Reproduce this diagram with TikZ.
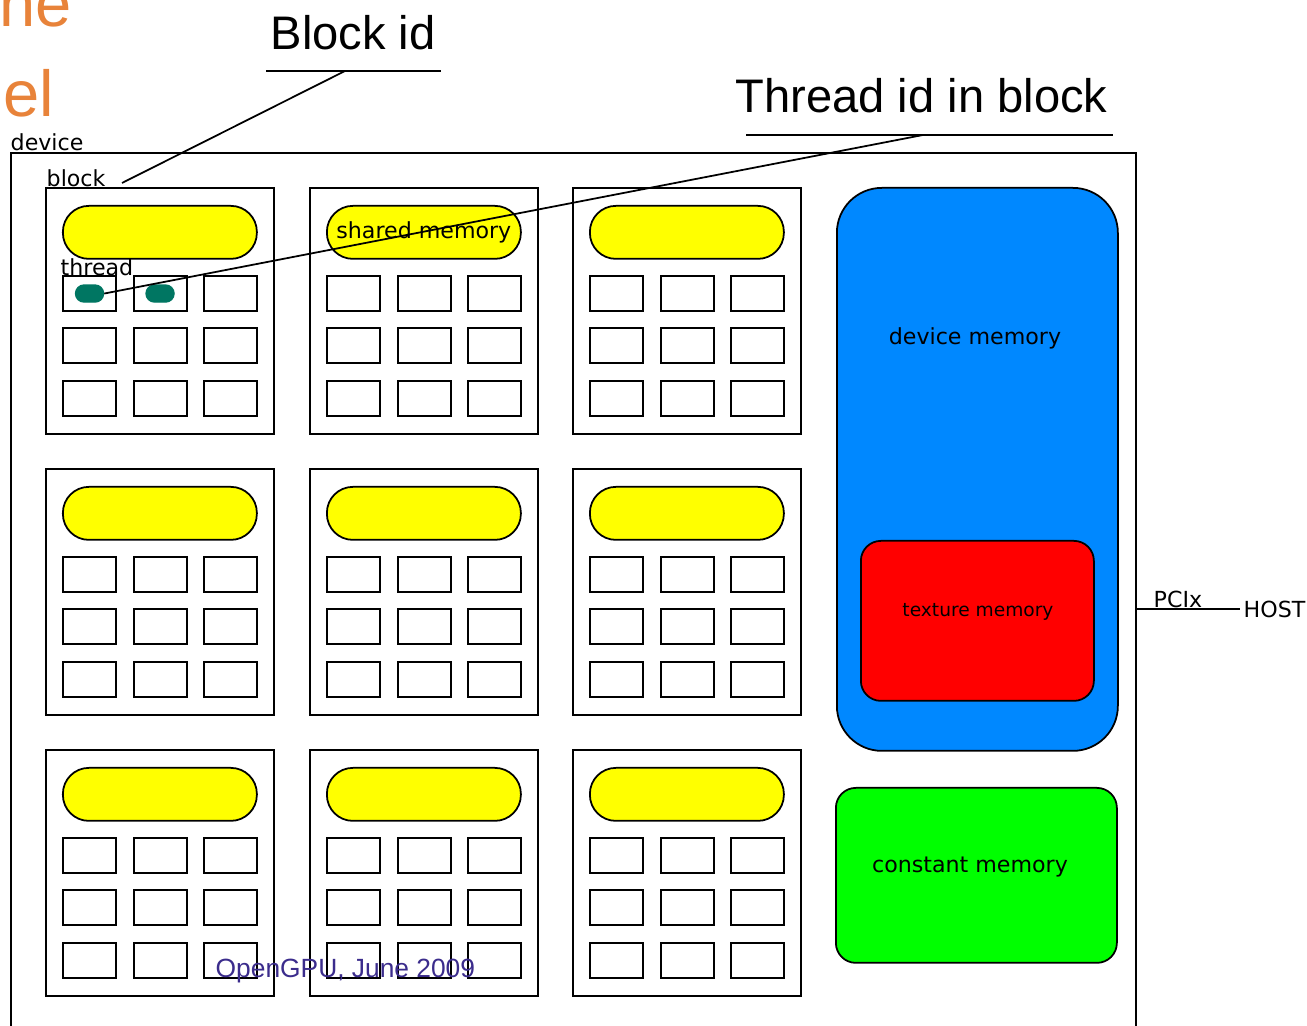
\documentclass[tikz,border=0pt]{standalone}
\usepackage{fontspec}
\setmainfont{DejaVu Sans}
\newfontfamily\helv{Liberation Sans}
\definecolor{shyellow}{RGB}{255,255,0}
\definecolor{devblue}{RGB}{0,136,255}
\definecolor{texred}{RGB}{255,0,0}
\definecolor{constgreen}{RGB}{0,255,0}
\definecolor{thrteal}{RGB}{0,118,98}
\definecolor{slideorange}{RGB}{232,131,58}
\definecolor{footpurple}{RGB}{59,44,140}
\tikzset{
  lbl/.style={font=\fontsize{6.3}{7.5}\selectfont, inner sep=0pt, anchor=base west},
  blockbox/.style={rectangle, draw, line width=0.6pt, minimum width=22.8mm, minimum height=24.6mm, anchor=north west},
  shmem/.style={rectangle, draw, line width=0.5pt, fill=shyellow, rounded corners=2.6mm, minimum width=19.4mm, minimum height=5.3mm, anchor=north west},
  cellbox/.style={rectangle, draw, line width=0.6pt, minimum width=5.3mm, minimum height=3.5mm, anchor=north west},
  thr/.style={rectangle, draw=thrteal, fill=thrteal, rounded corners=0.85mm, minimum width=2.8mm, minimum height=1.7mm, inner sep=0pt},
  membox/.style={rectangle, draw, line width=0.5pt, anchor=north west},
  title/.style={font=\helv\fontsize{13.4}{16}\selectfont, inner sep=0pt, anchor=base west}
}
\begin{document}
\begin{tikzpicture}
\useasboundingbox (0,0) rectangle (13.07,-10.26);

\node [anchor=base west, inner sep=0pt, text=slideorange, font=\helv\fontsize{18.5}{22}\selectfont] at (-0.01,-0.27) {ne};
\node [anchor=base west, inner sep=0pt, text=slideorange, font=\helv\fontsize{18.5}{22}\selectfont] at (0.03,-1.17) {el};

\node (device) [rectangle, draw, line width=0.6pt, minimum width=112.5mm, minimum height=92mm, anchor=north west] at (0.10,-1.52) {};
\node (devicelbl) [lbl] at (0.10,-1.51) {device};

\foreach \r/\y in {1/-1.87, 2/-4.68, 3/-7.49} {
  \foreach \c/\x in {1/0.45, 2/3.09, 3/5.72} {
    \node (blk\r\c) [blockbox] at (\x,\y) {};
    \node (shm\r\c) [shmem] at (\x+0.17,\y-0.18) {};
    \foreach \i/\dy in {1/0.88, 2/1.40, 3/1.93} {
      \foreach \j/\dx in {1/0.17, 2/0.875, 3/1.575} {
        \node (cell\r\c\i\j) [cellbox] at (\x+\dx,\y-\dy) {};
      }
    }
  }
}

\node (blocklbl) [lbl] at (0.46,-1.87) {block};
\node (threadlbl) [lbl] at (0.60,-2.76) {thread};
\node [font=\fontsize{6.3}{7.5}\selectfont] at (shm12.center) {shared memory};

\node (thr1) [thr] at (cell1111.center) {};
\node (thr2) [thr] at (cell1112.center) {};

\node (devmem) [membox, fill=devblue, rounded corners=4.5mm, minimum width=28.1mm, minimum height=56.3mm] at (8.36,-1.87) {};
\node [font=\fontsize{6.3}{7.5}\selectfont] at (9.75,-3.38) {device memory};
\node (texmem) [membox, fill=texred, rounded corners=2mm, minimum width=23.3mm, minimum height=16.0mm] at (8.60,-5.40) {};
\node [font=\fontsize{5.3}{6.5}\selectfont] at (9.78,-6.12) {texture memory};
\node (constmem) [membox, fill=constgreen, rounded corners=2mm, minimum width=28.1mm, minimum height=17.5mm] at (8.35,-7.87) {};
\node [font=\fontsize{6.3}{7.5}\selectfont] at (9.70,-8.67) {constant memory};

\node (host) [font=\fontsize{6.3}{7.5}\selectfont, inner sep=0.3mm, anchor=west] at (12.40,-6.09) {HOST};
\node (pcix) [lbl] at (11.53,-6.08) {PCIx};
\draw [line width=0.5pt] (device.east |- host.west) -- (host.west);

\node (blockid) [title] at (2.70,-0.50) {Block id};
\coordinate (bidL) at (2.66,-0.71);
\coordinate (bidR) at (4.41,-0.71);
\coordinate (bidtip) at (3.45,-0.71);
\coordinate (blockend) at (1.22,-1.83);
\draw [line width=0.5pt] (bidL) -- (bidR);
\draw [line width=0.5pt] (bidtip) -- (blockend);

\node (threadid) [title] at (7.35,-1.13) {Thread id in block};
\coordinate (tidL) at (7.46,-1.35);
\coordinate (tidR) at (11.13,-1.35);
\coordinate (tidtip) at (9.23,-1.35);
\draw [line width=0.5pt] (tidL) -- (tidR);
\draw [line width=0.5pt] (tidtip) -- (thr1.east);

\node (footer) [anchor=base west, inner sep=0pt, text=footpurple, font=\helv\fontsize{7.5}{9}\selectfont] at (2.15,-9.78) {OpenGPU, June 2009};
\end{tikzpicture}
\end{document}
